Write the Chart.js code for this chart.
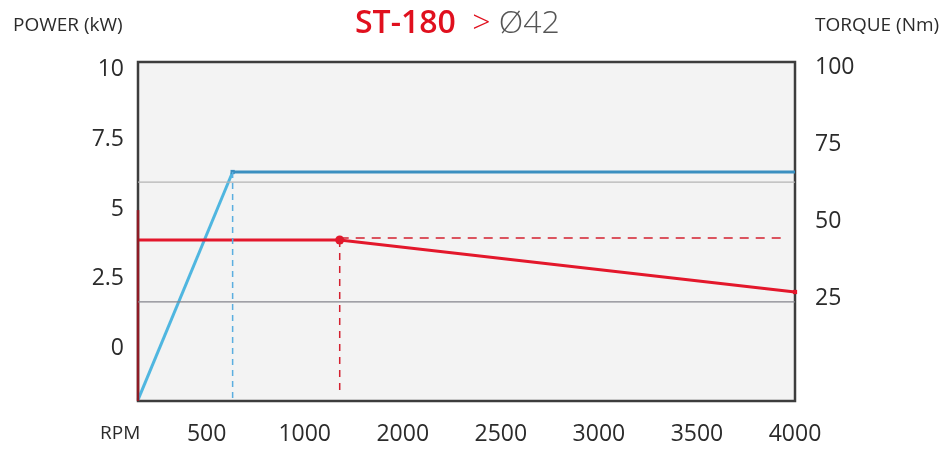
<!DOCTYPE html>
<html>
<head>
<meta charset="utf-8">
<script src="https://cdn.jsdelivr.net/npm/chart.js@4"></script>
<style>
  html, body { margin: 0; padding: 0; background: #fff; }
  #wrap { position: relative; width: 939px; height: 449px; font-family: 'Open Sans', sans-serif; }
  #wrap canvas { position: absolute; left: 0; top: 0; }
  .lbl { position: absolute; line-height: 1; white-space: nowrap; color: #2b2b2b; }
</style>
</head>
<body>
<div id="wrap">
  <canvas id="chart" width="939" height="449"></canvas>
  <div class="lbl" style="left:13px;top:15px;font-size:19px">POWER (kW)</div>
  <div class="lbl" style="left:815px;top:15px;font-size:19px">TORQUE (Nm)</div>
  <div class="lbl" style="left:100px;top:423px;font-size:19px">RPM</div>
  <div class="lbl" style="left:355px;top:5px;font-size:32px">
    <span style="color:#e0101e;font-weight:600">ST-180</span>
    <span style="color:#e0101e;font-weight:300;margin-left:8px">&gt;</span>
    <span style="color:#555;font-weight:300">Ø42</span>
  </div>
</div>
<script>
// ── Axes ───────────────────────────────────────────────────────────────────
const X_MIN = 0.3, X_MAX = 7;               // slot positions, one slot per RPM label
const xTickSlots  = [1, 2, 3, 4, 5, 6, 7];
const xTickLabels = ['500', '1000', '2000', '2500', '3000', '3500', '4000'];

const powerMin = -1.86, powerMax = 10.25;
const powerTicks = [0, 2.5, 5, 7.5, 10];

const torqueMin = -8.3, torqueMax = 101.8;
const torqueTicks = [25, 50, 75, 100];

// ── Series ────────────────────────────────────────────────────────────────
const powerX  = [0.3, 1.265, 7];
const powerY  = [-1.82, 6.32, 6.32];

const torqueX = [0.3, 2.357, 7];
const torqueY = [44.0, 44.0, 27.1];

const torqueEdgeY = [-8.3, 53.7];            // red stretch along the left border
const torqueRefY  = 44.6;                    // dashed rated-torque level
const torqueRefEnd = 6.87;
const torqueDropY = -5.4;                    // end of dashed drop under the torque knee

const gridLevels = [5.96, 1.68];             // thin reference lines (power scale)
const gridColors = ['#b4b4b4', '#85858d'];

const BLUE_UP = '#4fb6e0', BLUE = '#3b8fc0', RED = '#e3172b';

const pts = (xs, ys) => xs.map((x, i) => ({ x, y: ys[i] }));
const fixWidth = w => scale => { scale.width = w; };

const plotFrame = {
  id: 'plotFrame',
  beforeDatasetsDraw(chart) {
    const { ctx, chartArea: a } = chart;
    ctx.save();
    ctx.fillStyle = '#f3f3f3';
    ctx.fillRect(a.left, a.top, a.right - a.left, a.bottom - a.top);
    ctx.strokeStyle = '#3d3d3d';
    ctx.lineWidth = 2.5;
    ctx.strokeRect(a.left, a.top, a.right - a.left, a.bottom - a.top);
    ctx.restore();
  },
};

const line = extra => Object.assign({
  type: 'line', fill: false, tension: 0, pointRadius: 0, borderWidth: 1.5, clip: false,
}, extra);

new Chart(document.getElementById('chart'), {
  data: {
    datasets: [
      ...gridLevels.map((g, i) => line({
        data: pts([X_MIN, X_MAX], [g, g]), borderColor: gridColors[i], borderWidth: 1.2, yAxisID: 'y',
      })),
      line({
        data: pts([powerX[1], powerX[1]], [powerY[1], powerMin]),
        borderColor: '#5aaee0', borderDash: [6, 5], yAxisID: 'y',
      }),
      line({
        data: pts([torqueX[1], torqueX[1]], [torqueY[1], torqueDropY]),
        borderColor: '#d4202f', borderDash: [7, 6], yAxisID: 'y1',
      }),
      line({
        data: pts([torqueX[1], torqueRefEnd], [torqueRefY, torqueRefY]),
        borderColor: '#d4202f', borderDash: [9, 7], yAxisID: 'y1',
      }),
      line({
        data: pts([X_MIN, X_MIN], torqueEdgeY), borderColor: '#8e1b25', borderWidth: 2.5, yAxisID: 'y1',
      }),
      line({
        data: pts(torqueX, torqueY), borderColor: RED, borderWidth: 3, yAxisID: 'y1',
        pointRadius: [0, 4.5, 3], pointStyle: ['circle', 'circle', 'rect'],
        pointBackgroundColor: RED, pointBorderWidth: 0,
      }),
      line({
        data: pts(powerX, powerY), borderWidth: 3, yAxisID: 'y',
        segment: { borderColor: c => c.p0DataIndex === 0 ? BLUE_UP : BLUE },
        borderColor: BLUE,
        pointRadius: [0, 3, 0], pointStyle: 'rect', pointBackgroundColor: BLUE, pointBorderWidth: 0,
      }),
    ],
  },
  options: {
    responsive: false, animation: false, events: [],
    layout: { padding: { top: 62, left: 0, right: 0, bottom: 0 } },
    plugins: { legend: { display: false }, tooltip: { enabled: false }, title: { display: false } },
    scales: {
      x: {
        type: 'linear', position: 'bottom', min: X_MIN, max: X_MAX,
        afterFit: scale => { scale.height = 48; },
        afterBuildTicks: scale => { scale.ticks = xTickSlots.map(v => ({ value: v })); },
        grid: { display: false, drawTicks: false }, border: { display: false },
        ticks: {
          padding: 20, color: '#2b2b2b', maxRotation: 0, autoSkip: false,
          font: { family: 'Open Sans', size: 23 },
          callback: (v, i) => xTickLabels[i],
        },
      },
      y: {
        type: 'linear', position: 'left', min: powerMin, max: powerMax,
        afterFit: fixWidth(138),
        afterBuildTicks: scale => { scale.ticks = powerTicks.map(v => ({ value: v })); },
        grid: { display: false, drawTicks: false }, border: { display: false },
        ticks: { padding: 14, color: '#2b2b2b', font: { family: 'Open Sans', size: 23 }, callback: v => String(v) },
      },
      y1: {
        type: 'linear', position: 'right', min: torqueMin, max: torqueMax,
        afterFit: fixWidth(144),
        afterBuildTicks: scale => { scale.ticks = torqueTicks.map(v => ({ value: v })); },
        grid: { display: false, drawTicks: false }, border: { display: false },
        ticks: { padding: 20, color: '#2b2b2b', font: { family: 'Open Sans', size: 23 }, callback: v => String(v) },
      },
    },
  },
  plugins: [plotFrame],
});
</script>
</body>
</html>
